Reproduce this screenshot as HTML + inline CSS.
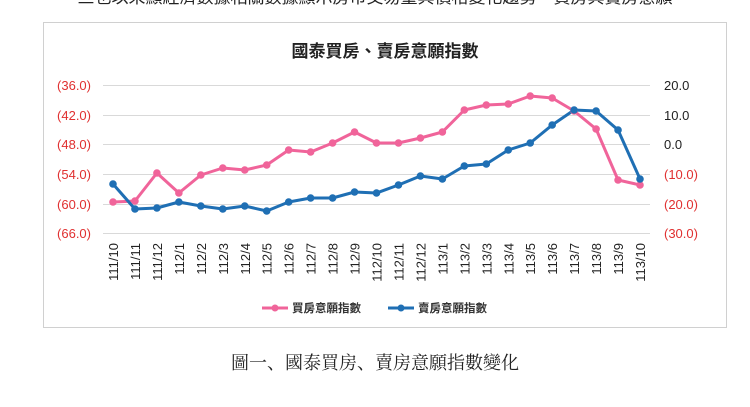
<!DOCTYPE html>
<html><head><meta charset="utf-8"><style>
body{margin:0;background:#fff;width:750px;height:402px;overflow:hidden;font-family:"Liberation Sans","Noto Sans CJK TC",sans-serif}
</style></head><body>
<svg width="750" height="402" xmlns="http://www.w3.org/2000/svg" font-family="Liberation Sans, Noto Sans CJK TC, sans-serif">
<text x="375" y="3" font-size="17" text-anchor="middle" fill="#222">三也以來顯經濟數據相關數據顯示房市交易量與價格變化趨勢，買房與賣房意願</text>
<rect x="43.5" y="22.5" width="683" height="305" fill="#fff" stroke="#d0d0d0"/>
<text x="385" y="57" font-size="17" font-weight="bold" text-anchor="middle" fill="#222">國泰買房、賣房意願指數</text>
<g stroke="#d9d9d9" stroke-width="1">
<line x1="103" x2="650" y1="85.5" y2="85.5"/><line x1="103" x2="650" y1="115.5" y2="115.5"/>
<line x1="103" x2="650" y1="144.5" y2="144.5"/><line x1="103" x2="650" y1="174.5" y2="174.5"/>
<line x1="103" x2="650" y1="204.5" y2="204.5"/><line x1="103" x2="650" y1="233.5" y2="233.5"/>
</g>
<g font-size="13" fill="#e03030" text-anchor="end">
<text x="91" y="90">(36.0)</text><text x="91" y="120">(42.0)</text><text x="91" y="149">(48.0)</text>
<text x="91" y="179">(54.0)</text><text x="91" y="209">(60.0)</text><text x="91" y="238">(66.0)</text>
</g>
<g font-size="13" text-anchor="start">
<text x="664" y="90" fill="#222">20.0</text><text x="664" y="120" fill="#222">10.0</text><text x="664" y="149" fill="#222">0.0</text>
<text x="664" y="179" fill="#e03030">(10.0)</text><text x="664" y="209" fill="#e03030">(20.0)</text><text x="664" y="238" fill="#e03030">(30.0)</text>
</g>
<g font-size="13" fill="#222" text-anchor="end" id="xl"></g>
<polyline id="pk" fill="none" stroke="#f0649a" stroke-width="3" stroke-linejoin="round"/>
<polyline id="bl" fill="none" stroke="#1f6fb4" stroke-width="3" stroke-linejoin="round"/>
<g id="dots"></g>
<line x1="262" x2="288" y1="308" y2="308" stroke="#f0649a" stroke-width="3"/><circle cx="275" cy="308" r="3.5" fill="#f0649a"/>
<text x="292" y="312" font-size="11.5" font-weight="bold" fill="#333">買房意願指數</text>
<line x1="388" x2="414" y1="308" y2="308" stroke="#1f6fb4" stroke-width="3"/><circle cx="401" cy="308" r="3.5" fill="#1f6fb4"/>
<text x="418" y="312" font-size="11.5" font-weight="bold" fill="#333">賣房意願指數</text>
<text x="375" y="369" font-size="18" text-anchor="middle" fill="#222" font-family="Liberation Serif, Noto Serif CJK SC, serif">圖一、國泰買房、賣房意願指數變化</text>
</svg>
<script>
var labels=["111/10","111/11","111/12","112/1","112/2","112/3","112/4","112/5","112/6","112/7","112/8","112/9","112/10","112/11","112/12","113/1","113/2","113/3","113/4","113/5","113/6","113/7","113/8","113/9","113/10"];
var pk=[202,201,173,193,175,168,170,165,150,152,143,132,143,143,138,132,110,105,104,96,98,111,129,180,185];
var bl=[184,209,208,202,206,209,206,211,202,198,198,192,193,185,176,179,166,164,150,143,125,110,111,130,179];
var n=labels.length,x0=113,dx=(640-113)/(n-1),ns="http://www.w3.org/2000/svg";
var xl=document.getElementById('xl'),d=document.getElementById('dots'),pp=[],bp=[];
for(var i=0;i<n;i++){var x=x0+dx*i;
var t=document.createElementNS(ns,'text');t.setAttribute('transform','translate('+(x+5)+',243) rotate(-90)');t.textContent=labels[i];xl.appendChild(t);
pp.push(x+','+pk[i]);bp.push(x+','+bl[i]);}
document.getElementById('pk').setAttribute('points',pp.join(' '));
document.getElementById('bl').setAttribute('points',bp.join(' '));
for(var i=0;i<n;i++){var x=x0+dx*i;
[[pk[i],'#f0649a'],[bl[i],'#1f6fb4']].forEach(function(a){var c=document.createElementNS(ns,'circle');c.setAttribute('cx',x);c.setAttribute('cy',a[0]);c.setAttribute('r',3.8);c.setAttribute('fill',a[1]);d.appendChild(c);});}
</script>
</body></html>
